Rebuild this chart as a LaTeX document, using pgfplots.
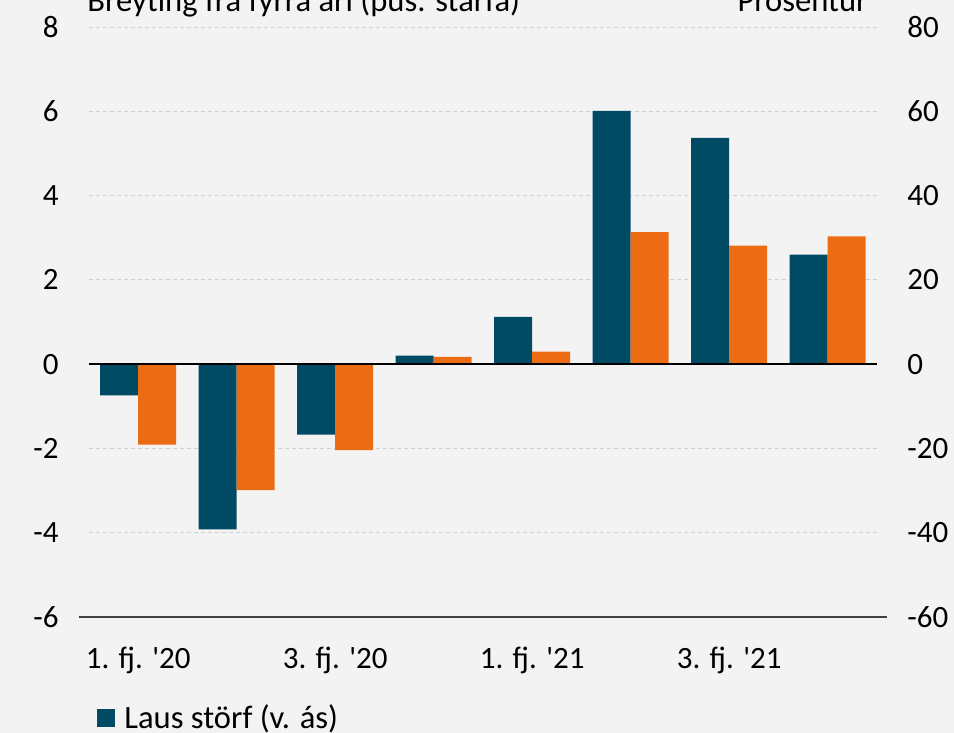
\documentclass[border=0pt]{standalone}
\usepackage{pgfplots}
\pgfplotsset{compat=1.18}
\usepackage{fontspec}
\setmainfont{Carlito}
\definecolor{bg}{HTML}{F3F3F3}
\definecolor{dblue}{HTML}{004A64}
\definecolor{orng}{HTML}{EC6C14}
\definecolor{gridc}{HTML}{CFCFCF}
\definecolor{axgray}{HTML}{404040}
\newcommand{\lf}{\fontsize{15.5}{18}\selectfont}
\newcommand{\tf}{\fontsize{16.3}{19}\selectfont}

\begin{document}
\begin{tikzpicture}
\fill[bg] (-44.5pt,-58pt) rectangle (432.5pt,308.5pt);
\pgfplotsset{
  common/.style={
    width=394pt, height=295pt, scale only axis,
    at={(0,0)}, anchor=south west,
    xmin=-0.5, xmax=7.5,
    clip=false,
    axis line style={draw=none},
    major tick length=0pt, minor tick length=0pt,
    tick style={draw=none},
    ticklabel style={font=\lf, inner sep=0pt},
    ybar, bar width=19pt,
  }
}
\begin{axis}[common,
  ymin=-6, ymax=8, ytick={-6,-4,-2,0,2,4,6,8},
  yticklabels={-6,-4,-2,0,2,4,6,8},
  yticklabel style={anchor=east, xshift=-15pt},
  ymajorgrids, grid style={gridc, line width=0.5pt, dash pattern=on 2pt off 1.5pt},
  xtick={0,2,4,6},
  xticklabels={1. fj. \textquotesingle 20, 3. fj. \textquotesingle 20, 1. fj. \textquotesingle 21, 3. fj. \textquotesingle 21},
  xticklabel style={anchor=base, yshift=-26pt},
  legend style={draw=none, fill=none, at={(0,0)}, anchor=west, xshift=4pt, yshift=-50.5pt,
    inner sep=0pt, nodes={inner sep=0pt, font=\tf}, column sep=4.5pt},
  legend image code/.code={\fill[dblue] (0pt,-4.5pt) rectangle (9pt,4.5pt);},
]
\addplot[fill=dblue, draw=none, bar shift=-9.5pt] coordinates {
(0,-0.74) (1,-3.92) (2,-1.67) (3,0.20) (4,1.12) (5,6.01) (6,5.37) (7,2.60)};
\addlegendentry{Laus störf (v. ás)}
\node[anchor=base west, font=\tf, inner sep=0pt] at ([xshift=-1pt,yshift=8pt]axis cs:-0.5,8) {Breyting frá fyrra ári (þús. starfa)};
\end{axis}
\begin{axis}[common,
  ymin=-60, ymax=80, ytick={-60,-40,-20,0,20,40,60,80},
  yticklabels={-60,-40,-20,0,20,40,60,80},
  yticklabel pos=right,
  yticklabel style={anchor=west, xshift=15pt},
  xtick=\empty,
]
\addplot[fill=orng, draw=none, bar shift=9.5pt] coordinates {
(0,-19.1) (1,-29.9) (2,-20.4) (3,1.7) (4,3.0) (5,31.3) (6,28.1) (7,30.3)};
\draw[black, line width=0.75pt] (axis cs:-0.5,0) -- (axis cs:7.5,0);
\draw[axgray, line width=1pt] ([xshift=-5pt]axis cs:-0.5,-60) -- ([xshift=5pt]axis cs:7.5,-60);
\node[anchor=base east, font=\tf, inner sep=0pt] at ([xshift=-4.5pt,yshift=8pt]axis cs:7.5,80) {Prósentur};
\end{axis}
\pgfresetboundingbox
\useasboundingbox (-44.5pt,-58pt) rectangle (432.5pt,308.5pt);
\end{tikzpicture}
\end{document}
